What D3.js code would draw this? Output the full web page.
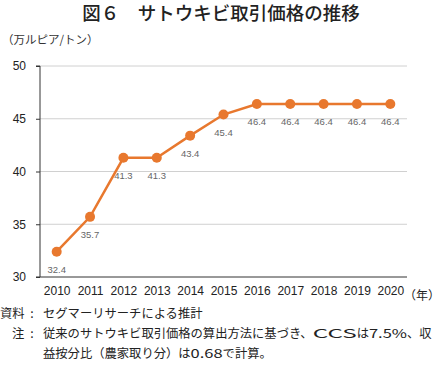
<!DOCTYPE html>
<html>
<head>
<meta charset="utf-8">
<script src="https://cdn.jsdelivr.net/npm/d3@7"></script>
<style>
  body { margin: 0; background: #fff; }
  text { font-family: "Noto Sans CJK JP", sans-serif; }
  .num { font-family: "Liberation Sans", Arial, sans-serif; }
</style>
</head>
<body>
<div id="chart"></div>
<script>
var years = ["2010", "2011", "2012", "2013", "2014", "2015", "2016", "2017", "2018", "2019", "2020"];
var prices = [32.4, 35.7, 41.3, 41.3, 43.4, 45.4, 46.4, 46.4, 46.4, 46.4, 46.4];
var yTicks = [30, 35, 40, 45, 50];

var svgWidth = 439;
var svgHeight = 369;

var margin = {
  top: 66,
  right: 32,
  bottom: 92,
  left: 40
};

var width = svgWidth - margin.left - margin.right;
var height = svgHeight - margin.top - margin.bottom;

var svg = d3.select("#chart")
  .append("svg")
  .attr("width", svgWidth)
  .attr("height", svgHeight);

// title
svg.append("text")
  .attr("x", 221)
  .attr("y", 20)
  .attr("text-anchor", "middle")
  .attr("font-size", "18.5px")
  .attr("font-weight", "500")
  .attr("fill", "#222")
  .text("図６　サトウキビ取引価格の推移");

svg.append("text")
  .attr("x", 2)
  .attr("y", 44)
  .attr("font-size", "11.5px")
  .attr("fill", "#333")
  .text("（万ルピア/トン）");

var chartGroup = svg.append("g")
  .attr("transform", `translate(${margin.left}, ${margin.top})`);

var xScale = d3.scalePoint()
  .domain(years)
  .range([0, width])
  .padding(0.5);

var yScale = d3.scaleLinear()
  .domain([30, 50])
  .range([height, 0]);

// gridlines
chartGroup.append("g")
  .selectAll("line")
  .data(yTicks.filter(d => d > 30))
  .enter()
  .append("line")
  .attr("x1", 0)
  .attr("x2", width)
  .attr("y1", d => yScale(d))
  .attr("y2", d => yScale(d))
  .attr("stroke", "#d0d0d0")
  .attr("stroke-width", 1);

var leftAxis = d3.axisLeft(yScale)
  .tickValues(yTicks)
  .tickSize(4)
  .tickPadding(10);

var yAxisG = chartGroup.append("g")
  .call(leftAxis);
yAxisG.select(".domain").attr("stroke", "#333").attr("d", `M-4,0H0V${height}H-4`);
yAxisG.selectAll(".tick line").attr("stroke", "#333");
yAxisG.selectAll("text")
  .attr("class", "num")
  .attr("font-size", "12px")
  .attr("fill", "#222");

var bottomAxis = d3.axisBottom(xScale)
  .tickSize(0)
  .tickPadding(9);

var xAxisG = chartGroup.append("g")
  .attr("transform", `translate(0, ${height})`)
  .call(bottomAxis);
xAxisG.select(".domain").attr("stroke", "#333").attr("d", `M0,0H${width}`);
xAxisG.selectAll("text")
  .attr("class", "num")
  .attr("font-size", "12px")
  .attr("fill", "#222");

svg.append("text")
  .attr("x", 404)
  .attr("y", 300)
  .attr("font-size", "12px")
  .attr("fill", "#222")
  .text("（年）");

var line = d3.line()
  .x((d, i) => xScale(years[i]))
  .y(d => yScale(d));

chartGroup.append("path")
  .datum(prices)
  .attr("d", line)
  .attr("fill", "none")
  .attr("stroke", "#e8782e")
  .attr("stroke-width", 2.5);

chartGroup.selectAll("circle")
  .data(prices)
  .enter()
  .append("circle")
  .attr("cx", (d, i) => xScale(years[i]))
  .attr("cy", d => yScale(d))
  .attr("r", 5)
  .attr("fill", "#e8782e");

chartGroup.selectAll(".val")
  .data(prices)
  .enter()
  .append("text")
  .attr("class", "num")
  .attr("x", (d, i) => xScale(years[i]))
  .attr("y", d => yScale(d) + 21)
  .attr("text-anchor", "middle")
  .attr("font-size", "9.5px")
  .attr("fill", "#666")
  .text(d => d.toFixed(1));

// notes
var notes = svg.append("g").attr("font-size", "12.3px").attr("fill", "#222");
notes.append("text").attr("x", 0).attr("y", 318).text("資料");
notes.append("text").attr("x", 12).attr("y", 338).text("注");
notes.append("text").attr("x", 32).attr("y", 318).attr("text-anchor", "middle").text(":");
notes.append("text").attr("x", 32).attr("y", 338).attr("text-anchor", "middle").text(":");
notes.append("text").attr("x", 43).attr("y", 318).text("セグマーリサーチによる推計");

// the source's latin glyphs are wide, so stretch them
var note2 = notes.append("text").attr("x", 43).attr("y", 338);
note2.append("tspan").text("従来のサトウキビ取引価格の算出方法に基づき、");
note2.append("tspan").attr("textLength", 44).attr("lengthAdjust", "spacingAndGlyphs").text("CCS");
note2.append("tspan").text("は");
note2.append("tspan").attr("textLength", 38).attr("lengthAdjust", "spacingAndGlyphs").text("7.5%");
note2.append("tspan").text("、収");

var note3 = notes.append("text").attr("x", 43).attr("y", 358);
note3.append("tspan").text("益按分比（農家取り分）は");
note3.append("tspan").attr("textLength", 32).attr("lengthAdjust", "spacingAndGlyphs").text("0.68");
note3.append("tspan").text("で計算。");
</script>
</body>
</html>
